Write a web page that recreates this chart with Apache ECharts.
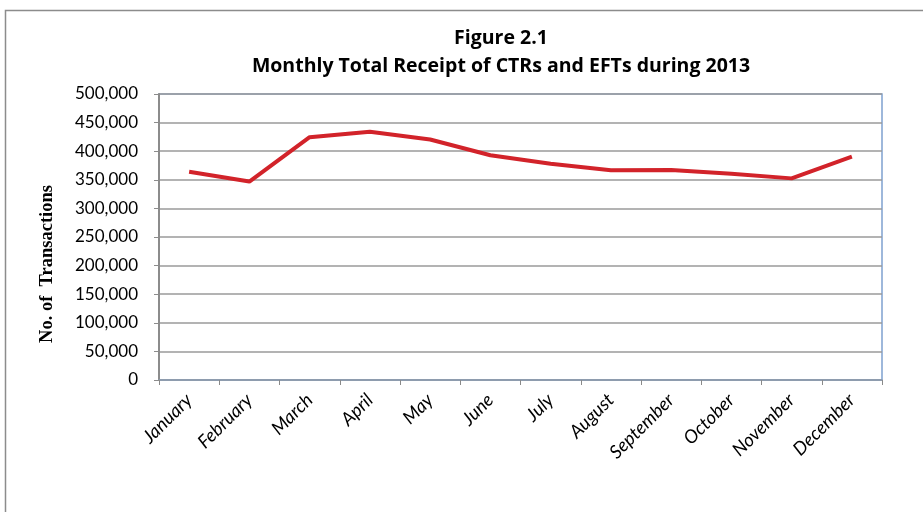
<!DOCTYPE html>
<html>
<head>
<meta charset="utf-8">
<script src="https://cdn.jsdelivr.net/npm/echarts@6/dist/echarts.min.js"></script>
<style>html,body{margin:0;padding:0;background:#fff}#c{width:923px;height:512px}</style>
</head>
<body>
<div id="c"></div>
<script>
const months = ['January','February','March','April','May','June','July','August','September','October','November','December'];
const receipts = [364000, 347000, 424500, 434000, 420500, 393000, 378000, 366500, 367000, 360500, 352500, 390500];
const yTicks = {min: 0, max: 500000, interval: 50000};
const titleLines = ['Figure 2.1', 'Monthly Total Receipt of CTRs and EFTs during 2013'];
const yTitle = 'No. of  Transactions';

const chart = echarts.init(document.getElementById('c'), null, {renderer: 'canvas'});
chart.setOption({
  animation: false,
  backgroundColor: '#fff',
  graphic: [{
    type: 'rect', shape: {x: 5.5, y: 10.5, width: 960, height: 600},
    style: {fill: 'none', stroke: '#8c8c8c', lineWidth: 1.5}, silent: true, z: -1
  }, {
    type: 'text', x: 47, y: 264, rotation: Math.PI / 2,
    style: {text: yTitle, fontFamily: 'Liberation Serif', fontWeight: 'bold', fontSize: 18.5,
      fill: '#000', align: 'center', verticalAlign: 'middle'}
  }],
  title: {
    text: titleLines.join('\n'), left: 496, top: 19, textAlign: 'center',
    textStyle: {fontFamily: 'Open Sans', fontWeight: 'bold', fontSize: 19.5, lineHeight: 28, color: '#000'}
  },
  grid: {left: 159, right: 41, top: 94, bottom: 132, show: true, borderColor: '#7fa1cf', borderWidth: 1.5, backgroundColor: 'transparent'},
  xAxis: {
    type: 'category', data: months, boundaryGap: true,
    axisLine: {lineStyle: {color: '#8a9bb0', width: 1.5}},
    axisTick: {show: true, alignWithLabel: false, length: 5, lineStyle: {color: '#8a8a8a'}},
    axisLabel: {rotate: 45, fontFamily: 'Lato', fontStyle: 'italic', fontSize: 18.5, color: '#000', margin: 17, interval: 0}
  },
  yAxis: {
    type: 'value', min: yTicks.min, max: yTicks.max, interval: yTicks.interval,
    axisLine: {show: true, lineStyle: {color: '#8c8c8c', width: 2}},
    axisTick: {show: true, length: 5, lineStyle: {color: '#8c8c8c'}},
    splitLine: {lineStyle: {color: '#9a9a9a', width: 1.5}},
    axisLabel: {
      fontFamily: 'Lato', fontSize: 17, color: '#000', margin: 21,
      formatter: v => v.toLocaleString('en-US')
    }
  },
  series: [{
    type: 'line', data: receipts, symbol: 'none',
    lineStyle: {color: '#d2232a', width: 4}
  }]
});
</script>
</body>
</html>
